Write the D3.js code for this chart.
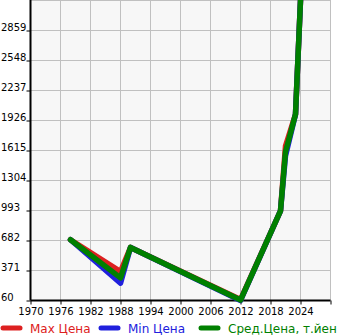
<!DOCTYPE html>
<html>
<head>
<meta charset="utf-8">
<script src="https://d3js.org/d3.v7.min.js"></script>
<style>
  body { margin: 0; background: #fff; }
  text { font-family: "DejaVu Sans", Verdana, sans-serif; }
</style>
</head>
<body>
<div id="chart"></div>
<script>
// years and prices
var years    = [1978, 1988, 1990, 2012, 2020, 2021, 2023, 2024];
var maxPrice = [690, 360, 610, 70, 990, 1660, 1990, 3170];
var minPrice = [690, 240, 610, 60, 990, 1560, 1990, 3170];
var avgPrice = [690, 295, 610, 65, 990, 1600, 1990, 3170];

var xTicks = [1970, 1976, 1982, 1988, 1994, 2000, 2006, 2012, 2018, 2024, 2030];
var yTicks = [60, 371, 682, 993, 1304, 1615, 1926, 2237, 2548, 2859, 3170];

var series = [
  {name: "Max Цена", color: "#dd2020", values: maxPrice},
  {name: "Min Цена", color: "#2020dd", values: minPrice},
  {name: "Сред.Цена, т.йен", color: "#008000", values: avgPrice}
];

var width = 345, height = 335;

var svg = d3.select("#chart").append("svg")
  .attr("width", width)
  .attr("height", height);

var x = d3.scaleLinear().domain([1970, 2030]).range([30.5, 330.5]);
var y = d3.scaleLinear().domain([60, 3170]).range([300.5, 0.5]);

// plot background
svg.append("rect")
  .attr("x", x(1970)).attr("y", 0)
  .attr("width", x(2030) - x(1970)).attr("height", y(60))
  .attr("fill", "#f7f7f7");

// grid
svg.append("g").selectAll("line")
  .data(xTicks.slice(1))
  .enter().append("line")
  .attr("x1", function(d) { return x(d); })
  .attr("x2", function(d) { return x(d); })
  .attr("y1", 0).attr("y2", y(60))
  .attr("stroke", "#c0c0c0");

svg.append("g").selectAll("line")
  .data(yTicks.slice(1))
  .enter().append("line")
  .attr("x1", x(1970)).attr("x2", x(2030))
  .attr("y1", function(d) { return y(d); })
  .attr("y2", function(d) { return y(d); })
  .attr("stroke", "#c0c0c0");

// bottom axis
var xAxis = svg.append("g")
  .attr("transform", "translate(0," + y(60) + ")")
  .call(d3.axisBottom(x).tickValues(xTicks).tickFormat(d3.format("d")).tickSize(4).tickPadding(3));
xAxis.select(".domain").attr("stroke-width", 2).attr("d", "M" + x(1970) + ",0H" + x(2030));
xAxis.selectAll(".tick text").attr("font-size", "10px").attr("fill", "#000");
xAxis.selectAll(".tick").filter(function(d) { return d == 2030; }).select("text").remove();

// left axis
var yAxis = svg.append("g")
  .attr("transform", "translate(" + x(1970) + ",0)")
  .call(d3.axisLeft(y).tickValues(yTicks.slice(0, 10)).tickFormat(d3.format("d")).tickSize(4));
yAxis.select(".domain").attr("stroke-width", 2).attr("d", "M0,0V" + y(60));
yAxis.selectAll(".tick text")
  .attr("font-size", "10px")
  .attr("fill", "#000")
  .attr("text-anchor", "start")
  .attr("x", 1 - x(1970))
  .attr("dy", "-0.05em");

// lines
var line = d3.line()
  .x(function(d, i) { return x(years[i]); })
  .y(function(d) { return y(d); });

svg.append("g").selectAll("path")
  .data(series)
  .enter().append("path")
  .attr("d", function(s) { return line(s.values); })
  .attr("fill", "none")
  .attr("stroke", function(s) { return s.color; })
  .attr("stroke-width", 5.5)
  .attr("stroke-linejoin", "round")
  .attr("stroke-linecap", "round");

// legend
var legendX = [3, 101, 201];
var legend = svg.append("g").selectAll("g")
  .data(series)
  .enter().append("g")
  .attr("transform", function(d, i) { return "translate(" + legendX[i] + ",328)"; });

legend.append("line")
  .attr("x1", 0).attr("x2", 17)
  .attr("stroke", function(d) { return d.color; })
  .attr("stroke-width", 5)
  .attr("stroke-linecap", "round");

legend.append("text")
  .attr("x", 27).attr("y", 4.5)
  .attr("font-size", "12px")
  .attr("fill", function(d) { return d.color; })
  .text(function(d) { return d.name; });
</script>
</body>
</html>
